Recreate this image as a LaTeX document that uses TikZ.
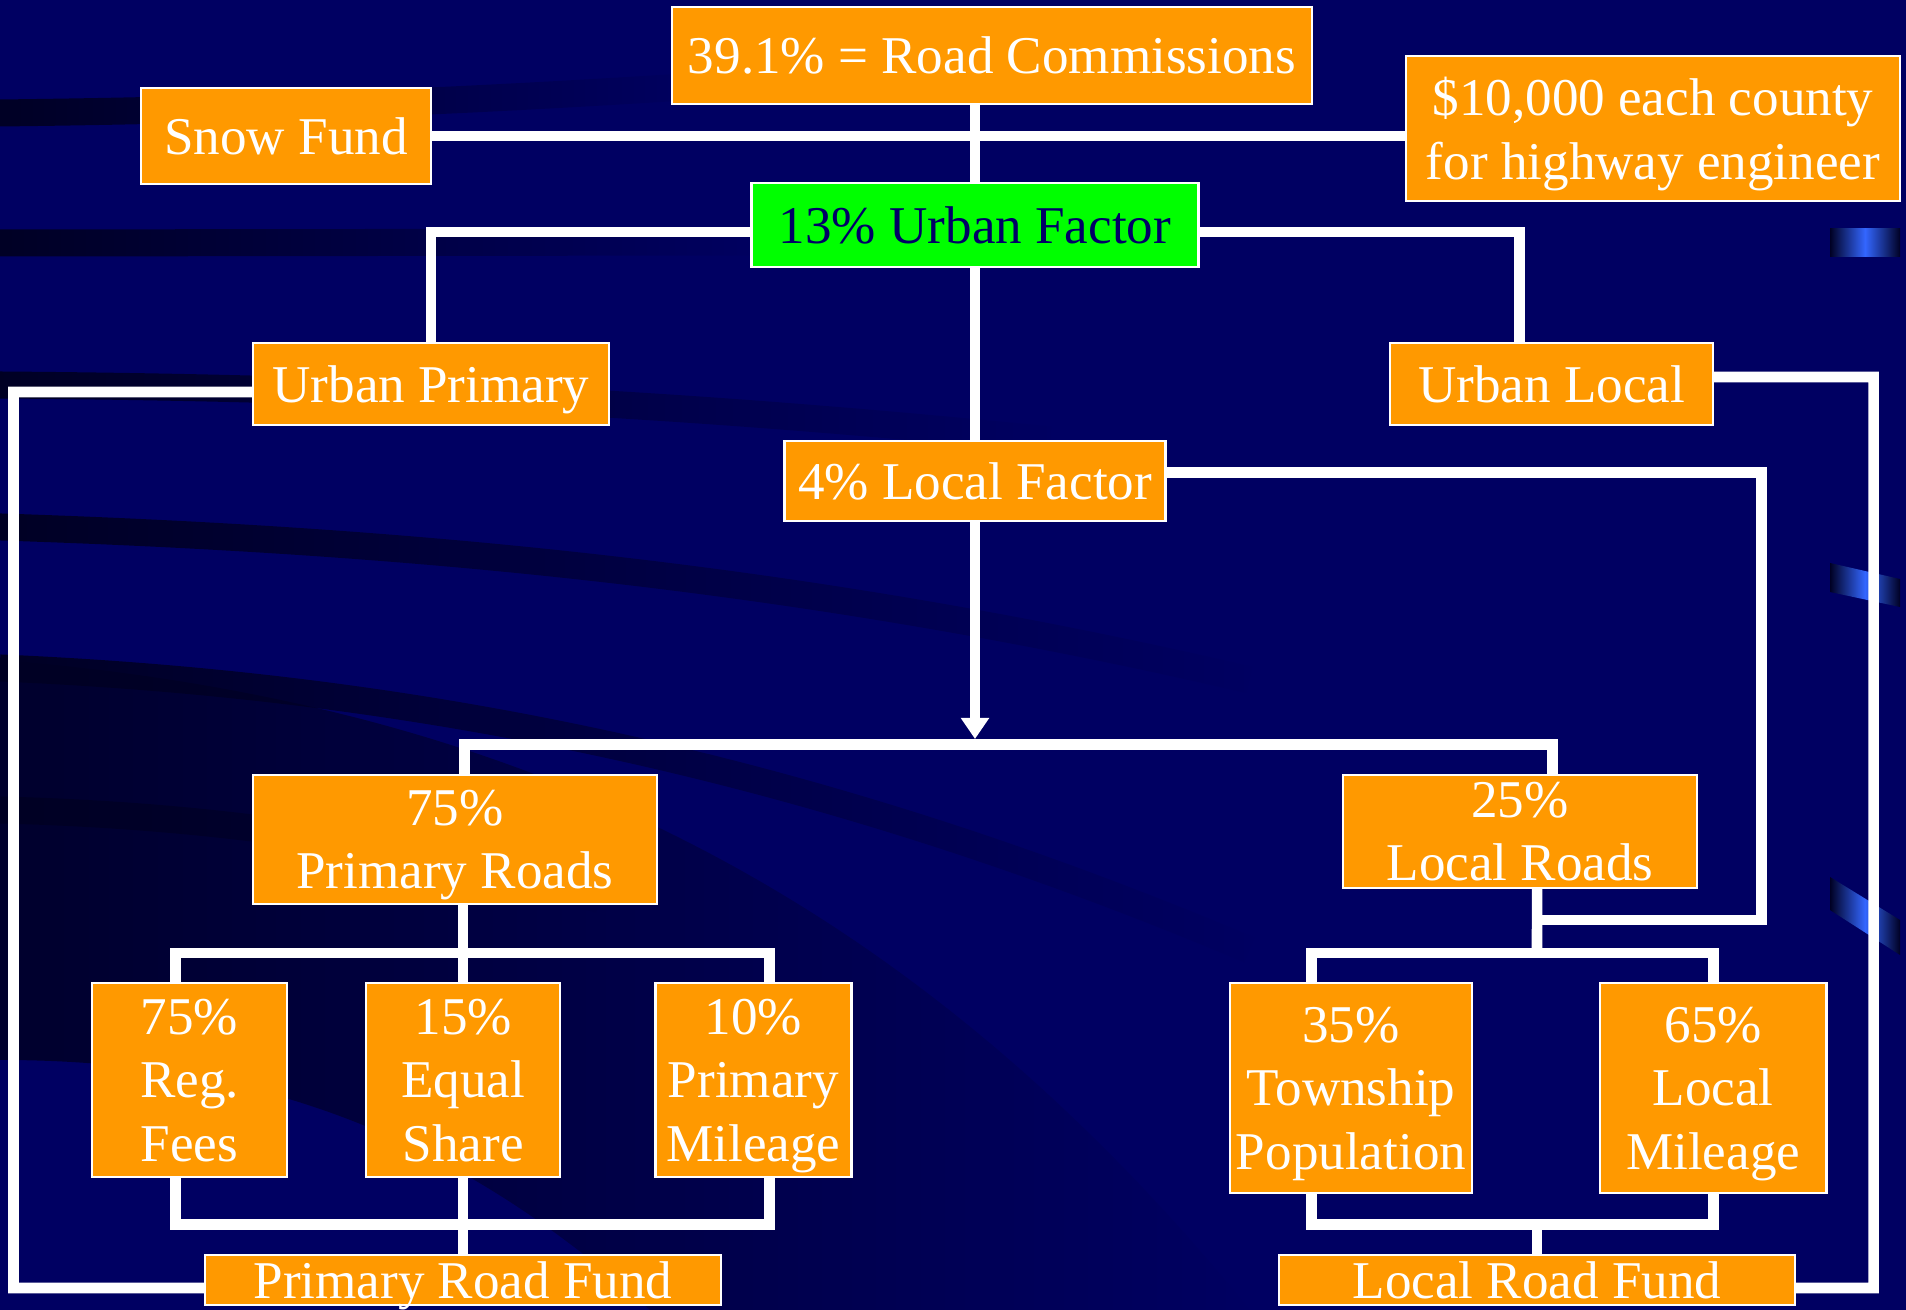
\documentclass[tikz,border=0pt]{standalone}
\usepackage{fontspec}
\setmainfont{Liberation Serif}
\usetikzlibrary{
	positioning,
	arrows.meta,
	fadings
}

\definecolor{slidebg}{RGB}{0,0,98}
\definecolor{slidedark}{RGB}{0,0,36}
\definecolor{boxorange}{RGB}{255,153,0}
\definecolor{factorgreen}{RGB}{0,255,0}
\definecolor{factortext}{RGB}{0,0,102}
\definecolor{streakblue}{RGB}{51,102,255}
\tikzfading[name=fade right, left color=transparent!0, right color=transparent!100]

\newcommand{\boxfont}{\fontsize{15.1pt}{18.1pt}\selectfont}

\begin{document}
\begin{tikzpicture}[
			x=0.01cm, y=-0.01cm,
			box/.style={
				draw=white,
				line width=0.7pt,
				fill=boxorange,
				text=white,
				inner sep=0pt,
				outer sep=0pt,
				align=center,
				font=\boxfont,
				text depth=0pt
			},
			link/.style={draw=white, line width=3pt},
			arrow/.style={link, -{Triangle[width=0.27cm,length=0.21cm]}},
			band/.style={draw=slidedark, line width=0.27cm, path fading=fade right},
			streak/.style={left color=slidedark, right color=slidedark, middle color=streakblue}
			]
			
			% slide background
			\useasboundingbox (0,0) rectangle (1906,1310);
			\fill[slidebg] (0,0) rectangle (1906,1310);
			\fill[slidedark, opacity=0.85, path fading=fade right]
			(0,660) .. controls (500,700) and (900,880) .. (1250,1310)
			-- (650,1310) .. controls (450,1130) and (250,1060) .. (0,1060) -- cycle;
			\draw[band] (0,113) .. controls (250,110) and (450,102) .. (700,86);
			\draw[band] (0,243) -- (760,242);
			\draw[band] (0,385) .. controls (400,388) and (700,405) .. (1050,440);
			\draw[band] (0,527) .. controls (400,540) and (800,575) .. (1250,680);
			\draw[band] (0,668) .. controls (400,685) and (800,760) .. (1250,950);
			\draw[band] (0,810) .. controls (200,815) and (400,840) .. (600,900);
			\shade[streak] (1830,229) rectangle (1900,257);
			\shade[streak] (1830,563) -- (1900,579) -- (1900,607) -- (1830,592) -- cycle;
			\shade[streak] (1830,877) -- (1900,920) -- (1900,955) -- (1830,910) -- cycle;
			
			% boxes
			\node[box, minimum width=6.40cm, minimum height=0.97cm] (rc) at (992,55.5)
			{39.1\% = Road Commissions};
			
			\node[box, minimum width=2.90cm, minimum height=0.96cm] (snow) at (286,136)
			{Snow Fund};
			
			\node[box, minimum width=4.94cm, minimum height=1.45cm] (eng) at (1653,128.5)
			{\$10,000 each county\\for highway engineer};
			
			\node[box, fill=factorgreen, text=factortext, minimum width=4.47cm, minimum height=0.84cm] (urban) at (975,225)
			{13\% Urban Factor};
			
			\node[box, minimum width=3.56cm, minimum height=0.82cm] (uprim) at (431,384)
			{Urban Primary};
			
			\node[box, minimum width=3.23cm, minimum height=0.82cm] (uloc) at (1551.5,384)
			{Urban Local};
			
			\node[box, minimum width=3.81cm, minimum height=0.80cm] (lfac) at (975,481)
			{4\% Local Factor};
			
			\node[box, minimum width=4.04cm, minimum height=1.29cm] (prim) at (455,839.5)
			{75\%\\Primary Roads};
			
			\node[box, minimum width=3.54cm, minimum height=1.13cm] (loc) at (1520,831.5)
			{25\%\\Local Roads};
			
			\node[box, minimum width=1.95cm, minimum height=1.94cm] (fees) at (189.5,1080)
			{75\%\\Reg.\\Fees};
			
			\node[box, minimum width=1.94cm, minimum height=1.94cm, right=0.79cm of fees] (share)
			{15\%\\Equal\\Share};
			
			\node[box, minimum width=1.96cm, minimum height=1.94cm, right=0.95cm of share] (pmile)
			{10\%\\Primary\\Mileage};
			
			\node[box, minimum width=2.42cm, minimum height=2.10cm] (twp) at (1351,1088)
			{35\%\\Township\\Population};
			
			\node[box, minimum width=2.26cm, minimum height=2.10cm, right=1.28cm of twp] (lmile)
			{65\%\\Local\\Mileage};
			
			\node[box, minimum width=5.16cm, minimum height=0.50cm, text height=0.43cm, text depth=0.07cm] (prf) at (463,1280)
			{Primary Road Fund};
			
			\node[box, minimum width=5.16cm, minimum height=0.50cm, text height=0.43cm, text depth=0.07cm] (lrf) at (1537,1280)
			{Local Road Fund};
			
			% joints
			\coordinate (pleft) at (13.5,392);
			\coordinate (lright) at (1873.5,377);
			\coordinate (split) at (975,744.5);
			\coordinate (pbus) at (463,953);
			\coordinate (pfund) at (463,1224.5);
			\coordinate (lbus) at (1537,953);
			\coordinate (lfund) at (1537,1224.5);
			\coordinate (lfturn) at (1761.5,920);
			\coordinate (locjoin) at (1537,920);
			
			% top part
			\draw[link] (snow.east) -- (snow.east -| eng.west);
			\draw[link] (rc.south -| urban.north) -- (urban.north);
			\draw[link] (urban.south) -- (lfac.north);
			\draw[link] ([yshift=-0.07cm]urban.west) -| (uprim.north);
			\draw[link] ([yshift=-0.07cm]urban.east) -| ([xshift=-0.32cm]uloc.north);
			\draw[link] ([yshift=-0.08cm]uprim.west) -- (pleft) |- ([yshift=-0.08cm]prf.west);
			\draw[link] ([yshift=0.07cm]uloc.east) -- (lright) |- ([yshift=-0.08cm]lrf.east);
			\draw[link] ([yshift=0.085cm]lfac.east) -| (lfturn) -- (locjoin);
			\draw[arrow] (lfac.south) -- ([yshift=0.055cm]split);
			\draw[link] ([xshift=0.095cm]prim.north) |- (split) -| ([xshift=0.325cm]loc.north);
			
			% primary side
			\draw[link] (prim.south -| share.north) -- (share.north);
			\draw[link] ([xshift=-0.14cm]fees.north) |- (pbus) -| ([xshift=0.16cm]pmile.north);
			\draw[link] ([xshift=-0.14cm]fees.south) |- (pfund) -| ([xshift=0.16cm]pmile.south);
			\draw[link] (share.south) -- (share.south |- prf.north);
			
			% local side
			\draw[link] ([xshift=0.17cm]loc.south) -- (lbus);
			\draw[link] ([xshift=-0.395cm]twp.north) |- (lbus) -| (lmile.north);
			\draw[link] ([xshift=-0.395cm]twp.south) |- (lfund) -| (lmile.south);
			\draw[link] (lfund) -- (lrf.north);
			
		\end{tikzpicture}
\end{document}
